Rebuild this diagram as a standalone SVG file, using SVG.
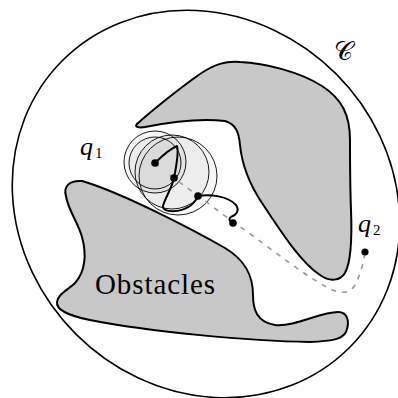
<svg xmlns="http://www.w3.org/2000/svg" width="398" height="398" viewBox="0 0 398 398">
<style>
.obs{fill:#c8c8c8;stroke:#000;stroke-width:2;stroke-linejoin:round}
.ball{fill:#000;fill-opacity:0.035;stroke:#000;stroke-width:0.9}
.dot{fill:#000}
.lbl{font-family:"Liberation Serif","DejaVu Serif",serif;fill:#000}
.it{font-style:italic}
</style>
<rect width="398" height="398" fill="#fff"/>
<g id="space">
<ellipse cx="206" cy="204" rx="203" ry="184" transform="rotate(45 206 204)" fill="none" stroke="#000" stroke-width="1.6"/>
<text class="lbl" x="334" y="60" font-size="26">𝒞</text>
</g>
<g id="obstacle-upper">
<path class="obs" d="M137,124 C150,112 180,88 200,74 C215,64 225,61 240,62 C265,63 300,72 322,86 C342,99 350,115 350,140 C350,165 350,185 351,210 C352,235 352,260 345,273 C340,281 330,282 320,275 C300,262 280,230 262,203 C250,185 242,165 240,145 C239,133 236,124 225,121 C200,118 165,123 145,127 C139,128 134,127 137,124 Z"/>
</g>
<g id="obstacle-lower">
<path class="obs" d="M66,196 C63,186 70,180 82,181 C120,192 190,228 225,248 C245,260 253,275 253,295 C253,310 257,322 275,325 C295,327 320,312 338,312 C348,312 350,322 346,332 C342,340 330,341 310,342 C250,341 150,332 90,320 C70,316 56,310 57,302 C58,294 68,290 75,283 C85,272 87,255 82,237 C78,222 68,210 66,196 Z"/>
<text class="lbl" x="95" y="294" font-size="29" textLength="120">Obstacles</text>
</g>
<g id="balls">
<circle class="ball" cx="155" cy="162" r="31"/>
<circle class="ball" cx="155" cy="163" r="26"/>
<circle class="ball" cx="172" cy="172" r="37"/>
<circle class="ball" cx="178" cy="176" r="39"/>
</g>
<g id="connectors">
<path d="M155,163 L163,170 M170,175 L236,224 C260,240 290,265 318,282 C335,293 348,297 355,285 C360,276 363,264 365,253" fill="none" stroke="#999" stroke-width="1.6" stroke-dasharray="5,6"/>
<path d="M155,163 C163,155 172,148 177,146 C179,152 176,168 174,178 C172,188 165,198 163,206 C162,213 180,213 190,206 C195,202 197,199 198,196 C210,194 228,196 236,205 C240,211 236,215 231,217 C228,219 230,222 233,223" fill="none" stroke="#000" stroke-width="2" stroke-linejoin="round"/>
</g>
<g id="q1">
<circle class="dot" cx="155" cy="163" r="3.8"/>
<text class="lbl it" x="80" y="155" font-size="26">q</text>
<text class="lbl" x="95" y="158" font-size="15">1</text>
</g>
<g id="waypoints">
<circle class="dot" cx="174" cy="178" r="3.8"/>
<circle class="dot" cx="198" cy="196" r="3.8"/>
<circle class="dot" cx="233" cy="223" r="3.8"/>
</g>
<g id="q2">
<circle class="dot" cx="365" cy="252" r="3.6"/>
<text class="lbl it" x="358" y="232" font-size="26">q</text>
<text class="lbl" x="373" y="235" font-size="15">2</text>
</g>
</svg>
